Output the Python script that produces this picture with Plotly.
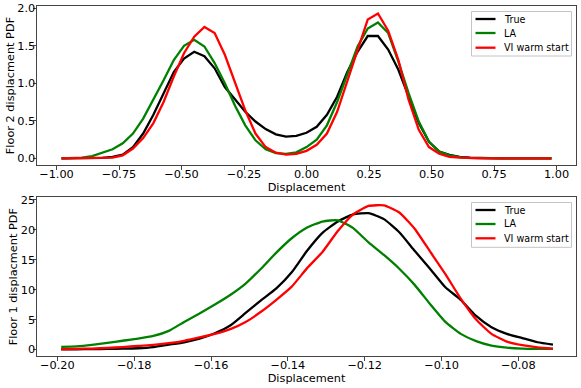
import numpy as np
import plotly.graph_objects as go

# ---------------- data: floor 2 (top panel) ----------------
x_floor2 = np.linspace(-0.98, 0.98, 49)
true_floor2 = [0.0, 0.0, 0.0, 0.0, 0.005, 0.02, 0.05, 0.15, 0.33, 0.58,
               0.87, 1.15, 1.33, 1.42, 1.36, 1.20, 0.95, 0.78, 0.62, 0.49,
               0.39, 0.32, 0.29, 0.30, 0.34, 0.42, 0.58, 0.82, 1.15, 1.42,
               1.63, 1.63, 1.45, 1.18, 0.82, 0.47, 0.22, 0.09, 0.045, 0.02,
               0.01, 0.005, 0.0, 0.0, 0.0, 0.0, 0.0, 0.0, 0.0]
la_floor2 = [0.0, 0.005, 0.01, 0.03, 0.07, 0.12, 0.20, 0.33, 0.53, 0.78,
             1.04, 1.31, 1.50, 1.58, 1.49, 1.27, 1.00, 0.70, 0.44, 0.24,
             0.12, 0.07, 0.06, 0.08, 0.15, 0.25, 0.44, 0.75, 1.11, 1.49,
             1.73, 1.81, 1.67, 1.29, 0.87, 0.49, 0.22, 0.09, 0.04, 0.015,
             0.005, 0.0, 0.0, 0.0, 0.0, 0.0, 0.0, 0.0, 0.0]
vi_floor2 = [0.0, 0.0, 0.0, 0.0, 0.005, 0.01, 0.04, 0.13, 0.27, 0.47,
             0.75, 1.09, 1.40, 1.62, 1.75, 1.67, 1.38, 1.01, 0.64, 0.33,
             0.15, 0.075, 0.05, 0.06, 0.10, 0.18, 0.33, 0.62, 1.02, 1.44,
             1.85, 1.93, 1.70, 1.31, 0.78, 0.38, 0.15, 0.06, 0.02, 0.01,
             0.0, 0.0, 0.0, 0.0, 0.0, 0.0, 0.0, 0.0, 0.0]

# ---------------- data: floor 1 (bottom panel) ----------------
x_floor1 = np.linspace(-0.199, -0.071, 33)
true_floor1 = [0.0, 0.02, 0.05, 0.08, 0.12, 0.2, 0.4, 0.8, 1.2, 1.8,
               2.7, 4.0, 6.1, 8.2, 10.2, 12.9, 16.5, 19.5, 21.4, 22.6,
               22.8, 21.8, 19.6, 16.5, 13.5, 10.4, 8.3, 5.6, 3.7, 2.6,
               1.9, 1.2, 0.8]
la_floor1 = [0.43, 0.5, 0.75, 1.1, 1.45, 1.8, 2.25, 3.1, 4.6, 6.0,
             7.5, 9.1, 11.0, 13.5, 16.2, 18.6, 20.4, 21.4, 21.6, 20.3,
             17.9, 15.8, 13.5, 10.8, 7.6, 4.6, 2.6, 1.4, 0.65, 0.3,
             0.15, 0.1, 0.1]
vi_floor1 = [0.05, 0.1, 0.15, 0.25, 0.4, 0.6, 0.75, 1.05, 1.45, 2.0,
             2.6, 3.4, 4.6, 6.3, 8.3, 10.5, 13.6, 16.3, 19.8, 22.6,
             24.0, 24.1, 22.9, 20.2, 16.4, 12.6, 8.5, 5.0, 2.6, 1.3,
             0.7, 0.35, 0.15]

series_names = ["True", "LA", "VI warm start"]
series_colors = ["#000000", "#008000", "#ff0000"]

top_x_ticks = [-1.0, -0.75, -0.5, -0.25, 0.0, 0.25, 0.5, 0.75, 1.0]
top_y_ticks = [0.0, 0.5, 1.0, 1.5, 2.0]
bot_x_ticks = [-0.20, -0.18, -0.16, -0.14, -0.12, -0.10, -0.08]
bot_y_ticks = [0, 5, 10, 15, 20, 25]

FONT = "DejaVu Sans"
FS = 11.3
LEG_FS = 9.6
W, H = 581, 388
ML, MR, MT, MB = 37, 5, 6, 32
PW, PH = W - ML - MR, H - MT - MB


def px(xp):
    return (xp - ML) / PW


def py(yp):
    return (H - MB - yp) / PH


fig = go.Figure()
for name, color, ys in zip(series_names, series_colors, [true_floor2, la_floor2, vi_floor2]):
    fig.add_trace(go.Scatter(x=x_floor2, y=ys, mode="lines", name=name,
                             line=dict(color=color, width=2.3),
                             xaxis="x", yaxis="y", showlegend=False))
for name, color, ys in zip(series_names, series_colors, [true_floor1, la_floor1, vi_floor1]):
    fig.add_trace(go.Scatter(x=x_floor1, y=ys, mode="lines", name=name,
                             line=dict(color=color, width=2.3, shape="spline", smoothing=0.5),
                             xaxis="x2", yaxis="y2", showlegend=False))

# legends drawn as boxes with line samples and text (matplotlib style)
shapes, annotations = [], []
for box_top, box_bot, entry_ys in [(11.5, 56.0, [19.0, 33.0, 47.7]),
                                   (202.5, 247.3, [210.0, 224.0, 238.3])]:
    shapes.append(dict(type="rect", xref="paper", yref="paper",
                       x0=px(471.5), x1=px(571.5), y0=py(box_bot), y1=py(box_top),
                       line=dict(color="#c4c4c4", width=1),
                       fillcolor="rgba(255,255,255,0.8)", layer="above"))
    for name, color, ey in zip(series_names, series_colors, entry_ys):
        shapes.append(dict(type="line", xref="paper", yref="paper",
                           x0=px(475.5), x1=px(495.5), y0=py(ey), y1=py(ey),
                           line=dict(color=color, width=2.3), layer="above"))
        annotations.append(dict(text=name, xref="paper", yref="paper",
                                x=px(501.5), y=py(ey), xanchor="left", yanchor="middle",
                                showarrow=False, font=dict(family=FONT, size=LEG_FS, color="black")))

axis_common = dict(showline=True, mirror=True, linecolor="#444444", linewidth=1,
                   ticks="outside", ticklen=3.5, tickwidth=1, tickcolor="#444444",
                   showgrid=False, zeroline=False, automargin=False,
                   tickfont=dict(family=FONT, size=FS, color="black"))
xcommon = dict(axis_common, ticklabelstandoff=-5)
ycommon = dict(axis_common, ticklabelstandoff=-5)

fig.update_layout(
    width=W, height=H,
    margin=dict(l=ML, r=MR, t=MT, b=MB),
    paper_bgcolor="white", plot_bgcolor="white",
    font=dict(family=FONT, size=FS, color="black"),
    xaxis=dict(domain=[0, 1], anchor="y", range=[-1.078, 1.078],
               tickvals=top_x_ticks, tickformat=".2f",
               title=dict(text="Displacement", standoff=0, font=dict(size=FS)),
               **xcommon),
    yaxis=dict(domain=[py(165.0), 1], anchor="x", range=[-0.089, 2.03],
               tickvals=top_y_ticks, tickformat=".1f",
               title=dict(text="Floor 2 displacment PDF", standoff=0, font=dict(size=FS)),
               **ycommon),
    xaxis2=dict(domain=[0, 1], anchor="y2", range=[-0.2053, -0.065],
                tickvals=bot_x_ticks, tickformat=".2f",
                title=dict(text="Displacement", standoff=0, font=dict(size=FS)),
                **xcommon),
    yaxis2=dict(domain=[0, py(197.3)], anchor="x2", range=[-1.1, 25.45],
                tickvals=bot_y_ticks, tickformat="d",
                title=dict(text="Floor 1 displacment PDF", standoff=0, font=dict(size=FS)),
                **ycommon),
    shapes=shapes,
    annotations=annotations,
    showlegend=False,
)

fig.write_html("out.html", config={"displayModeBar": False},
               post_script="document.body.style.margin='0px';")
